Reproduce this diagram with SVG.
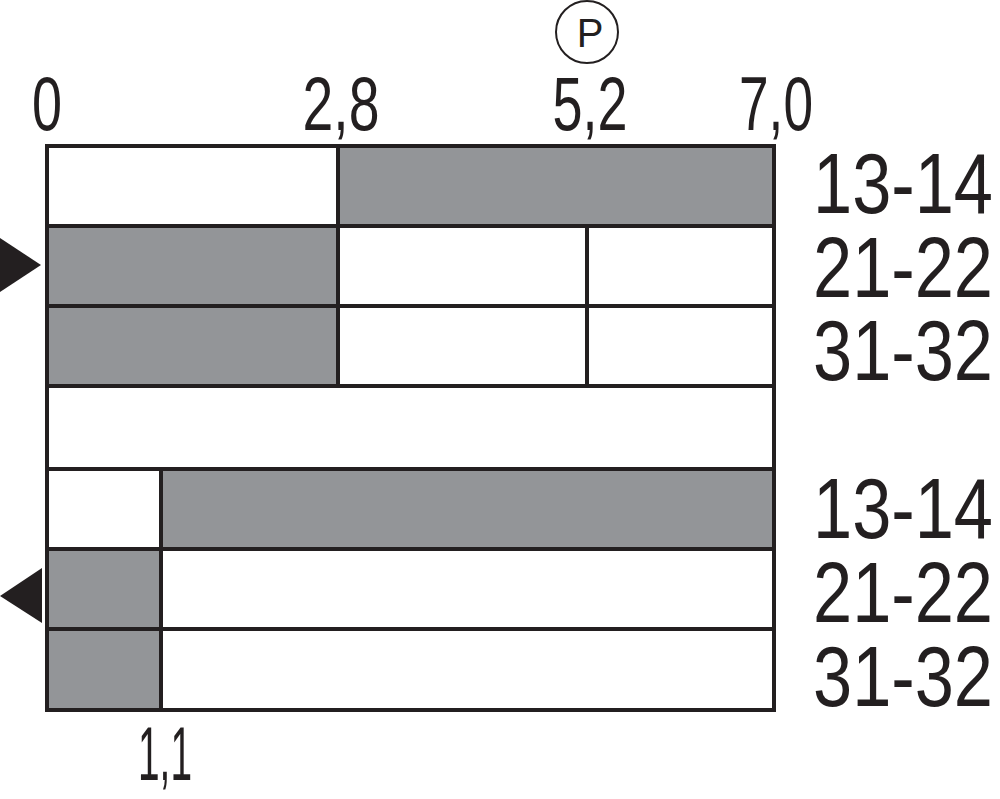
<svg xmlns="http://www.w3.org/2000/svg" width="1000" height="799" viewBox="0 0 1000 799">
<style>
.g{fill:#939598;stroke:none}
.ln{stroke:#231f20;stroke-width:4;fill:none}
.num{font-family:"Liberation Sans",Arial,sans-serif;font-size:76px;fill:#231f20;text-anchor:middle}
.lbl{font-family:"Liberation Sans",Arial,sans-serif;font-size:86px;fill:#231f20}
.arr{fill:#231f20}
</style>
<rect width="1000" height="799" fill="#fff"/>
<g id="fills">
<rect class="g" x="338" y="146" width="436" height="80"/>
<rect class="g" x="47" y="226" width="291" height="80"/>
<rect class="g" x="47" y="306" width="291" height="80"/>
<rect class="g" x="161" y="469" width="613" height="80"/>
<rect class="g" x="47" y="549" width="114" height="80"/>
<rect class="g" x="47" y="629" width="114" height="81"/>
</g>
<g id="grid">
<rect class="ln" x="47" y="146" width="727" height="564"/>
<line class="ln" x1="47" y1="226" x2="774" y2="226"/>
<line class="ln" x1="47" y1="306" x2="774" y2="306"/>
<line class="ln" x1="47" y1="386" x2="774" y2="386"/>
<line class="ln" x1="47" y1="469" x2="774" y2="469"/>
<line class="ln" x1="47" y1="549" x2="774" y2="549"/>
<line class="ln" x1="47" y1="629" x2="774" y2="629"/>
<line class="ln" x1="338" y1="146" x2="338" y2="386"/>
<line class="ln" x1="587" y1="226" x2="587" y2="386"/>
<line class="ln" x1="161" y1="469" x2="161" y2="710"/>
</g>
<g id="scale">
<text class="num" x="47" y="130" textLength="30" lengthAdjust="spacingAndGlyphs">0</text>
<text class="num" x="341" y="130" textLength="77" lengthAdjust="spacingAndGlyphs">2,8</text>
<text class="num" x="590" y="130" textLength="75" lengthAdjust="spacingAndGlyphs">5,2</text>
<text class="num" x="776" y="130" textLength="74" lengthAdjust="spacingAndGlyphs">7,0</text>
<text class="num" x="165" y="780" textLength="54" lengthAdjust="spacingAndGlyphs">1,1</text>
</g>
<g id="p-mark">
<circle cx="587" cy="32" r="31" fill="none" stroke="#231f20" stroke-width="2"/>
<text x="590" y="47" font-family="Liberation Sans, Arial, sans-serif" font-size="40" fill="#231f20" text-anchor="middle">P</text>
</g>
<g id="labels">
<text class="lbl" x="813" y="213" textLength="180" lengthAdjust="spacingAndGlyphs">13-14</text>
<text class="lbl" x="813" y="297" textLength="180" lengthAdjust="spacingAndGlyphs">21-22</text>
<text class="lbl" x="813" y="380" textLength="180" lengthAdjust="spacingAndGlyphs">31-32</text>
<text class="lbl" x="813" y="538" textLength="180" lengthAdjust="spacingAndGlyphs">13-14</text>
<text class="lbl" x="813" y="622" textLength="180" lengthAdjust="spacingAndGlyphs">21-22</text>
<text class="lbl" x="813" y="706" textLength="180" lengthAdjust="spacingAndGlyphs">31-32</text>
</g>
<g id="markers">
<polygon class="arr" points="0,238 41,265 0,292"/>
<polygon class="arr" points="42,568 0,596 42,623"/>
</g>
</svg>
